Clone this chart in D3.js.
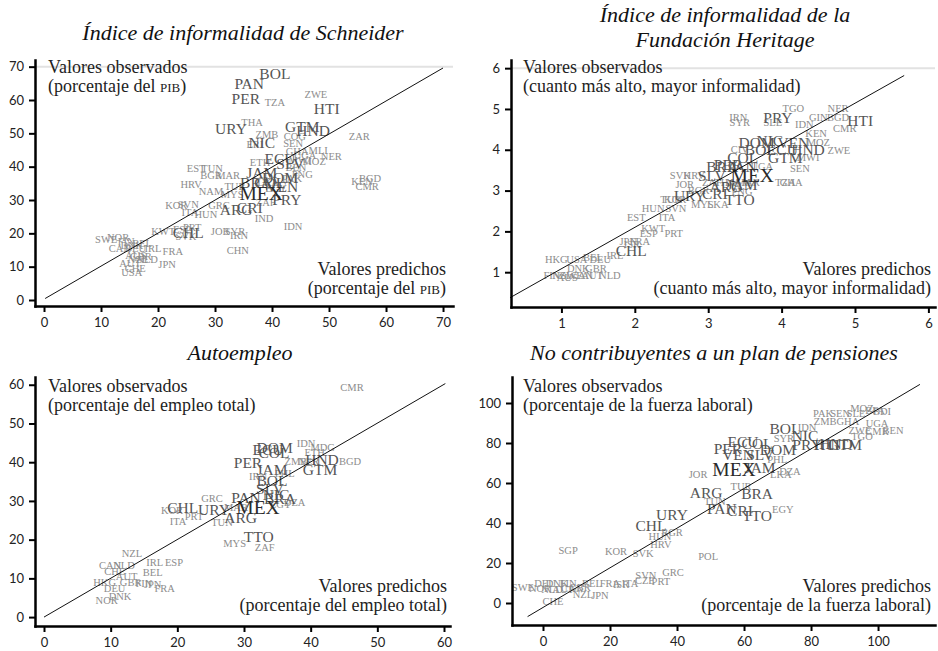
<!DOCTYPE html>
<html>
<head>
<meta charset="utf-8">
<script src="https://cdn.jsdelivr.net/npm/d3@7"></script>
<style>
body { margin: 0; background: #fff; }
text { font-family: "Liberation Serif", serif; }
.axis text { font-family: Lato, sans-serif; font-size: 13px; fill: #222; }
.axis path, .axis line { stroke: #000; }
</style>
</head>
<body>
<script>
// countries drawn bigger (Latin America & Caribbean)
const lac = ["ARG","BOL","BRA","CHL","COL","CRI","DOM","ECU","GTM","HND","HTI","JAM","MEX","NIC","PAN","PER","PRY","SLV","TTO","URY","VEN"];

// [country, predicted, observed]
const schneider = [
  ["BOL",40.5,68.1],["PAN",36.0,65.1],["PER",35.4,60.6],["HTI",49.6,57.6],["URY",32.8,51.6],
  ["GTM",45.3,52.2],["HND",47.2,51.0],["NIC",38.2,47.4],["ECU",41.4,42.6],["SLV",43.2,41.1],
  ["JAM",38.2,38.4],["DOM",41.4,36.9],["COL",39.6,35.4],["BRA",37.2,35.4],["VEN",41.8,34.2],
  ["PRY",42.6,30.3],["ARG",33.7,27.3],["CRI",36.1,27.9],["CHL",25.3,20.4],["MEX",38.1,32.1],
  ["TZA",40.5,59.4],["ZWE",47.7,61.8],["THA",36.5,53.4],["ZMB",39.1,49.8],["COG",44.0,49.2],
  ["ZAR",55.3,49.2],["ERI",37.0,46.8],["SEN",43.7,47.1],["GHA",44.4,44.7],["MLI",48.1,45.0],
  ["UGA",45.8,43.5],["NER",50.4,43.2],["ETH",37.9,41.4],["MWI",44.9,42.0],["MOZ",47.4,41.7],
  ["BEN",44.2,39.9],["PNG",45.3,37.8],["BGD",57.2,36.6],["KEN",55.8,35.7],["CMR",56.7,34.2],
  ["LKA",39.3,35.4],["EGY",40.7,33.6],["PAK",43.5,36.6],["TUN",29.5,39.6],["EST",26.7,39.6],
  ["BGR",29.3,37.5],["MAR",32.3,37.5],["HRV",25.8,34.8],["NAM",29.3,32.7],["TUR",33.5,34.2],
  ["MYS",33.0,31.8],["KOR",23.2,28.5],["SVN",25.3,28.8],["ITA",25.6,26.4],["HUN",28.4,25.8],
  ["GRC",30.7,28.5],["ZAF",38.9,29.4],["IND",38.6,24.6],["IDN",43.7,22.2],["JOR",30.9,20.7],
  ["SYR",33.5,20.7],["IRN",34.2,19.5],["CHN",34.0,15.0],["KWT",20.9,20.7],["PRT",26.0,21.9],
  ["ESP",24.2,21.3],["SVK",24.9,19.2],["SWE",10.9,18.3],["NOR",13.0,18.9],["FIN",14.4,17.7],
  ["DNK",15.4,16.5],["BEL",17.2,17.1],["CAN",13.3,15.6],["DEU",16.0,15.6],["IRL",19.1,15.6],
  ["FRA",22.6,14.7],["AUS",16.1,13.5],["GBR",17.0,13.2],["NLD",18.1,12.3],["NZL",16.5,12.3],
  ["AUT",15.1,11.1],["JPN",21.6,10.8],["CHE",16.0,9.6],["USA",15.4,8.4]
];

const heritage = [
  ["PRY",3.95,4.80],["HTI",5.07,4.71],["NIC",3.84,4.22],["VEN",4.16,4.19],["DOM",3.66,4.19],
  ["BOL",3.71,4.00],["ECU",4.01,4.00],["HND",4.36,4.00],["COL",3.47,3.80],["GTM",4.05,3.80],
  ["BRA",3.19,3.58],["PAN",3.46,3.58],["PER",3.27,3.65],["SLV",3.05,3.38],["JAM",3.46,3.16],
  ["ARG",3.24,3.09],["URY",2.75,2.89],["CRI",3.09,2.94],["TTO",3.43,2.79],["CHL",1.95,1.54],
  ["MEX",3.60,3.36],
  ["TGO",4.16,5.02],["NER",4.77,5.02],["IRN",3.41,4.80],["SYR",3.43,4.68],["SLE",3.88,4.66],
  ["IDN",4.31,4.61],["GIN",4.50,4.80],["BGD",4.77,4.80],["CMR",4.86,4.51],["KEN",4.47,4.39],
  ["MOZ",4.50,4.19],["ZWE",4.78,3.97],["CIV",3.43,4.00],["MWI",4.36,3.80],["SEN",4.25,3.55],
  ["UGA",3.73,3.60],["ZAF",3.05,3.19],["THA",3.23,3.19],["NAM",3.41,3.19],["MAR",3.54,3.19],
  ["TZA",4.05,3.19],["GHA",4.13,3.19],["PNG",3.46,2.97],["MYS",2.92,2.67],["LKA",3.13,2.67],
  ["SVK",2.62,3.36],["HRV",2.81,3.36],["JOR",2.68,3.14],["BGR",2.87,3.01],["TUR",2.49,2.77],
  ["KOR",2.55,2.77],["HUN",2.25,2.57],["SVN",2.56,2.57],["EST",2.02,2.33],["ITA",2.44,2.33],
  ["KWT",2.25,2.06],["ESP",2.19,1.94],["PRT",2.53,1.96],["JPN",1.91,1.76],["FRA",2.07,1.76],
  ["ISR",1.96,1.69],["IRL",1.73,1.42],["HKG",0.93,1.32],["USA",1.21,1.32],["BEL",1.43,1.35],
  ["DEU",1.53,1.32],["DNK",1.23,1.10],["GBR",1.47,1.10],["FIN",0.87,0.91],["AUS",1.08,0.88],
  ["NZL",1.01,0.91],["SWE",1.14,0.91],["CAN",1.28,0.91],["AUT",1.42,0.91],["NLD",1.66,0.91]
];

const selfEmployment = [
  ["CHL",20.8,28.4],["URY",25.5,27.9],["DOM",34.6,43.9],["COL",34.5,42.4],["ECU",33.6,43.2],
  ["PER",30.6,39.8],["HND",41.7,40.6],["GTM",41.4,38.0],["JAM",34.2,38.0],["BOL",34.2,35.4],
  ["SLV",33.9,33.1],["NIC",34.8,31.6],["PAN",30.3,31.0],["BRA",35.4,30.6],["ARG",29.5,25.6],
  ["TTO",32.2,20.7],["MEX",32.1,28.4],
  ["GRC",25.2,30.7],["KOR",19.2,27.4],["ITA",20.1,24.8],["PRT",22.5,26.1],["TUN",26.7,24.5],
  ["NZL",13.2,16.5],["IRL",16.6,14.0],["ESP",19.5,14.0],["CAN",9.9,13.2],["NLD",12.0,13.2],
  ["CHE",10.6,11.9],["BEL",16.3,11.4],["AUT",12.4,10.6],["HKG",9.1,9.0],["GBR",13.0,9.0],
  ["FIN",15.0,8.8],["JPN",16.3,8.5],["FRA",18.1,7.5],["DEU",10.6,7.5],["DNK",11.4,5.4],
  ["NOR",9.4,4.4],["CMR",46.2,59.4],["IDN",39.3,44.7],["MDG",41.8,43.9],["ETH",40.6,42.6],
  ["ZMB",37.8,40.1],["BGD",45.9,40.1],["NER",39.7,40.1],["IRN",32.1,36.4],["PHL",36.1,37.0],
  ["DZA",37.6,29.5],["EGY",35.5,29.2],["MAR",28.8,28.4],["MYS",28.6,19.1],["ZAF",33.1,18.1]
];

const pensions = [
  ["ARG",48.7,55.5],["URY",38.5,44.5],["CHL",32.2,39.0],["PAN",53.4,47.5],["CRI",58.8,46.5],
  ["TTO",63.9,44.0],["BRA",63.9,55.0],["JAM",64.8,68.0],["VEN",58.2,74.5],["SLV",64.8,74.5],
  ["PER",55.2,77.5],["DOM",70.1,77.0],["ECU",59.7,81.0],["COL",63.9,80.0],["BOL",72.2,87.5],
  ["NIC",78.2,84.0],["PRY",78.8,79.5],["HTI",84.8,79.5],["HND",87.5,80.0],["GTM",90.1,79.5],
  ["MEX",57.0,67.0],
  ["JOR",46.3,64.5],["BGR",38.5,35.5],["HUN",34.9,33.5],["HRV",35.2,29.5],["SGP",7.5,26.5],
  ["KOR",21.8,26.0],["SVK",29.9,25.0],["POL",49.3,23.5],["GRC",38.8,15.5],["SVN",30.7,14.0],
  ["CZE",30.4,11.5],["PRT",35.2,11.0],["FRA",20.0,10.0],["ISR",23.3,9.5],["ITA",26.0,10.0],
  ["BEL",14.6,10.0],["SWE",-6.0,8.0],["DEU",0.6,10.0],["DNK",4.2,10.0],["FIN",7.5,10.0],
  ["NOR",-0.9,7.5],["NLD",2.7,7.0],["AUT",6.0,7.0],["CAN",8.7,7.5],["GBR",11.0,8.0],
  ["NZL",11.9,4.5],["JPN",17.0,4.0],["CHE",3.0,1.0],["TUR",59.1,58.5],["TUN",51.3,51.0],
  ["EGY",71.6,47.0],["LKA",71.0,64.5],["DZA",73.7,66.0],["PHL",69.9,72.0],["SYR",71.9,82.5],
  ["IDN",78.8,88.0],["ZMB",84.2,91.0],["GHA",91.0,91.0],["UGA",99.7,90.0],["PAK",83.6,95.0],
  ["SEN",88.7,95.0],["SLE",93.4,95.0],["MOZ",95.2,97.5],["BFA",99.1,96.5],["BDI",101.2,96.0],
  ["ZWE",94.6,86.5],["CMR",99.7,86.0],["BEN",104.5,86.5],["TGO",95.2,83.5]
];

// tick values
const ticksSchneider = [0,10,20,30,40,50,60,70];
const ticksHeritage = [1,2,3,4,5,6];
const ticksSelf = [0,10,20,30,40,50,60];
const ticksPension = [0,20,40,60,80,100];

// 45-degree reference lines, [x, y] end points
const fitSchneider = [[0.2,0.45],[70,69.6]];
const fitHeritage = [[0.30,0.375],[5.67,5.82]];
const fitSelf = [[0,0],[60.2,60.3]];
const fitPension = [[-4.6,-6.8],[112.5,109.3]];

const panels = [
  { rows: schneider, xr: [35,453], yr: [306,60], xd: [-1.58,71.75], yd: [-1.8,72],
    xt: ticksSchneider, yt: ticksSchneider, fit: fitSchneider, grid: 70,
    title: ["Índice de informalidad de Schneider"], tx: 243, ty: [40],
    obs: [[["Valores observados"]], [["(porcentaje del "],["pib",1],[")"]]], ox: 48, oy: 73,
    pred: [[["Valores predichos"]], [["(porcentaje del "],["pib",1],[")"]]], px: 446, py: 275 },
  { rows: heritage, xr: [511,935], yr: [307,60], xd: [0.313,6.09], yd: [0.147,6.2],
    xt: ticksHeritage, yt: ticksHeritage, fit: fitHeritage, grid: 6,
    title: ["Índice de informalidad de la", "Fundación Heritage"], tx: 725, ty: [22,47],
    obs: [[["Valores observados"]], [["(cuanto más alto, mayor informalidad)"]]], ox: 523, oy: 73,
    pred: [[["Valores predichos"]], [["(cuanto más alto, mayor informalidad)"]]], px: 931, py: 275 },
  { rows: selfEmployment, xr: [35,450], yr: [626,377], xd: [-1.35,60.9], yd: [-2.3,62],
    xt: ticksSelf, yt: ticksSelf, fit: fitSelf, grid: null,
    title: ["Autoempleo"], tx: 240, ty: [360],
    obs: [[["Valores observados"]], [["(porcentaje del empleo total)"]]], ox: 48, oy: 392,
    pred: [[["Valores predichos"]], [["(porcentaje del empleo total)"]]], px: 447, py: 592 },
  { rows: pensions, xr: [512,935], yr: [625,377], xd: [-9.25,117], yd: [-11,113],
    xt: ticksPension, yt: ticksPension, fit: fitPension, grid: null,
    title: ["No contribuyentes a un plan de pensiones"], tx: 714, ty: [360],
    obs: [[["Valores observados"]], [["(porcentaje de la fuerza laboral)"]]], ox: 523, oy: 392,
    pred: [[["Valores predichos"]], [["(porcentaje de la fuerza laboral)"]]], px: 931, py: 592 }
];

const svg = d3.select("body").append("svg")
  .attr("width", 938)
  .attr("height", 651);

const rank = c => c === "MEX" ? 2 : (lac.includes(c) ? 1 : 0);
const labSize = [10.5, 15.5, 19.5];
const labFill = ["#8c8c8c", "#555", "#2a2a2a"];

function writeLines(g, lines, x, y, anchor) {
  lines.forEach((segs, i) => {
    let t = g.append("text")
      .attr("x", x)
      .attr("y", y + i * 19)
      .attr("text-anchor", anchor)
      .style("font-size", "18px")
      .style("fill", "#222");
    segs.forEach(s => {
      t.append("tspan")
        .style("font-variant", s[1] ? "small-caps" : null)
        .text(s[0]);
    });
  });
}

panels.forEach(p => {
  let x = d3.scaleLinear().domain(p.xd).range(p.xr);
  let y = d3.scaleLinear().domain(p.yd).range(p.yr);
  let g = svg.append("g");

  if (p.grid != null) {
    g.append("line")
      .attr("x1", p.xr[0]).attr("x2", p.xr[1])
      .attr("y1", y(p.grid)).attr("y2", y(p.grid))
      .attr("stroke", "#e2e2e2")
      .attr("stroke-width", 2);
  }

  //country labels, small ones first
  let rows = p.rows.slice().sort((a, b) => rank(a[0]) - rank(b[0]));
  g.selectAll("text.lab")
    .data(rows)
    .enter()
    .append("text")
    .attr("class", "lab")
    .attr("x", d => x(d[1]))
    .attr("y", d => y(d[2]))
    .attr("text-anchor", "middle")
    .attr("dominant-baseline", "central")
    .style("font-size", d => labSize[rank(d[0])] + "px")
    .style("fill", d => labFill[rank(d[0])])
    .text(d => d[0]);

  g.append("path")
    .datum(p.fit)
    .attr("d", d3.line().x(d => x(d[0])).y(d => y(d[1])))
    .attr("fill", "none")
    .attr("stroke", "#111")
    .attr("stroke-width", 1);

  let fmt = d3.format("d");
  let xa = g.append("g")
    .attr("class", "axis")
    .attr("transform", `translate(0,${p.yr[0]})`)
    .call(d3.axisBottom(x).tickValues(p.xt).tickFormat(fmt).tickSize(6).tickSizeOuter(0).tickPadding(6));
  let ya = g.append("g")
    .attr("class", "axis")
    .attr("transform", `translate(${p.xr[0]},0)`)
    .call(d3.axisLeft(y).tickValues(p.yt).tickFormat(fmt).tickSize(6).tickSizeOuter(0).tickPadding(5));
  [xa, ya].forEach(a => {
    a.select(".domain").attr("stroke-width", 2.5).attr("stroke-linecap", "square");
    a.selectAll(".tick line").attr("stroke-width", 2);
  });

  p.title.forEach((t, i) => {
    g.append("text")
      .attr("x", p.tx)
      .attr("y", p.ty[i])
      .attr("text-anchor", "middle")
      .style("font-size", "22px")
      .style("font-style", "italic")
      .style("fill", "#111")
      .text(t);
  });

  writeLines(g, p.obs, p.ox, p.oy, "start");
  writeLines(g, p.pred, p.px, p.py, "end");
});
</script>
</body>
</html>
